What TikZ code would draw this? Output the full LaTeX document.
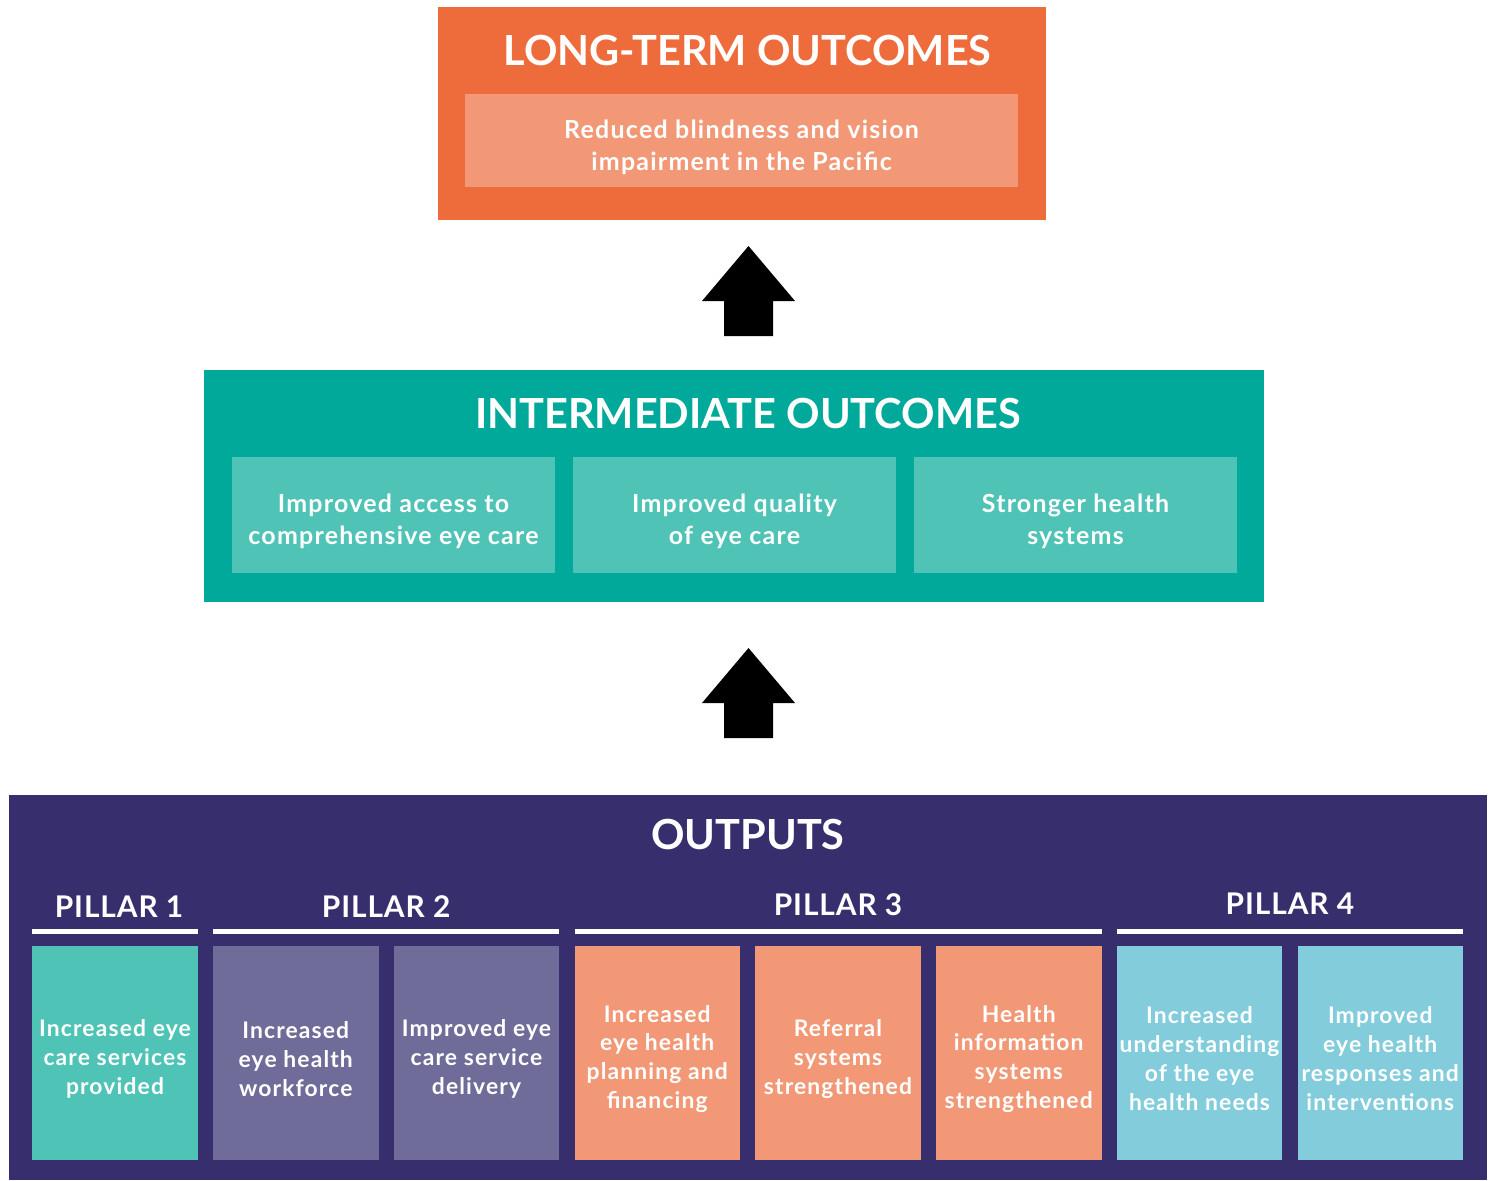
\documentclass[tikz,border=0pt]{standalone}
\usepackage{fontspec}
\setmainfont{Lato}
\newfontfamily\widefont[LetterSpace=5]{Lato}
\newfontfamily\pillfont[LetterSpace=3]{Lato}
\usepackage{xcolor}
\usetikzlibrary{positioning,calc}

\definecolor{ltorange}{HTML}{EE6C3B}
\definecolor{ltpeach}{HTML}{F29876}
\definecolor{imteal}{HTML}{00A99A}
\definecolor{imlight}{HTML}{4EC3B6}
\definecolor{outpurple}{HTML}{372E6E}
\definecolor{outlav}{HTML}{6F6C99}
\definecolor{outblue}{HTML}{82CCDC}

% a taller first line pushes the text a little below the middle
\newcommand{\lowr}{\rule{0pt}{1.25em}}

\begin{document}
\begin{tikzpicture}[
    panel/.style={rectangle, inner sep=0pt, outer sep=0pt},
    title/.style={text=white, font=\bfseries\fontsize{23.6}{27}\selectfont},
    ibox/.style={rectangle, inner sep=0pt, outer sep=0pt, text=white, align=center,
                 font=\widefont\bfseries\fontsize{14.2}{18.2}\selectfont},
    obox/.style={rectangle, inner sep=0pt, outer sep=0pt, minimum width=3.31cm,
                 minimum height=4.28cm, text=white, align=center,
                 font=\widefont\bfseries\fontsize{13}{16.4}\selectfont},
    pillar/.style={text=white, font=\pillfont\bfseries\fontsize{17}{20}\selectfont},
    pline/.style={draw=white, line width=0.1cm},
    uparrow/.style={fill=black},
    node distance=0.305cm
]
    \fill[white] (0,0) rectangle (29.9,-23.6);
    \useasboundingbox (0,0) rectangle (29.9,-23.6);

    % long-term outcomes
    \node[panel, fill=ltorange, minimum width=12.16cm, minimum height=4.26cm] (LT) at (14.84,-2.27) {};
    \node[title] (LTt) at (14.95,-1.02) {LONG-TERM OUTCOMES};
    \node[ibox, fill=ltpeach, minimum width=11.06cm, minimum height=1.86cm] (LTi) at (14.83,-2.81)
        {\lowr Reduced blindness and vision\\impairment in the Pacific};

    % intermediate outcomes
    \node[panel, fill=imteal, minimum width=21.2cm, minimum height=4.64cm] (IM) at (14.68,-9.72) {};
    \node[title] (IMt) at (14.96,-8.26) {INTERMEDIATE OUTCOMES};
    \node[ibox, fill=imlight, minimum width=6.46cm, minimum height=2.32cm] (i1) at (7.87,-10.30)
        {\lowr Improved access to\\comprehensive eye care};
    \node[ibox, fill=imlight, minimum width=6.46cm, minimum height=2.32cm, right=0.36cm of i1] (i2)
        {\lowr Improved quality\\of eye care};
    \node[ibox, fill=imlight, minimum width=6.46cm, minimum height=2.32cm, right=0.36cm of i2] (i3)
        {\lowr Stronger health\\systems};

    % outputs
    \node[panel, fill=outpurple, minimum width=29.56cm, minimum height=7.70cm] (OUT) at (14.96,-19.75) {};
    \node[title] (OUTt) at (14.96,-16.68) {OUTPUTS};
    \node[obox, fill=imlight] (o1) at (2.30,-21.06) {\lowr Increased eye\\care services\\provided};
    \node[obox, fill=outlav, right=of o1] (o2) {\lowr Increased\\eye health\\workforce};
    \node[obox, fill=outlav, right=of o2] (o3) {\lowr Improved eye\\care service\\delivery};
    \node[obox, fill=ltpeach, right=of o3] (o4) {\lowr Increased\\eye health\\planning and\\financing};
    \node[obox, fill=ltpeach, right=of o4] (o5) {\lowr Referral\\systems\\strengthened};
    \node[obox, fill=ltpeach, right=of o5] (o6) {\lowr Health\\information\\systems\\strengthened};
    \node[obox, fill=outblue, right=of o6] (o7) {\lowr Increased\\understanding\\of the eye\\health needs};
    \node[obox, fill=outblue, right=of o7] (o8) {\lowr Improved\\eye health\\responses and\\interventions};

    \draw[pline] ([yshift=0.30cm]o1.north west) -- ([yshift=0.30cm]o1.north east);
    \draw[pline] ([yshift=0.30cm]o2.north west) -- ([yshift=0.30cm]o3.north east);
    \draw[pline] ([yshift=0.30cm]o4.north west) -- ([yshift=0.30cm]o6.north east);
    \draw[pline] ([yshift=0.30cm]o7.north west) -- ([yshift=0.30cm]o8.north east);
    \node[pillar] (p1) at ([xshift=0.08cm, yshift=0.78cm]o1.north) {PILLAR 1};
    \node[pillar] (p2) at ($(o2.north)!0.5!(o3.north)+(0,0.78)$) {PILLAR 2};
    \node[pillar] (p3) at ([yshift=0.82cm]o5.north) {PILLAR 3};
    \node[pillar] (p4) at ($(o7.north)!0.5!(o8.north)+(0,0.84)$) {PILLAR 4};

    % block arrows
    \coordinate (u1) at (14.97,-5.82);
    \coordinate (u2) at (14.97,-13.86);
    \fill[uparrow] (u1) ++(0,0.9) -- ++(-0.93,-1.1) -- ++(0.44,0) -- ++(0,-0.7)
        -- ++(0.98,0) -- ++(0,0.7) -- ++(0.44,0) -- cycle;
    \fill[uparrow] (u2) ++(0,0.9) -- ++(-0.93,-1.1) -- ++(0.44,0) -- ++(0,-0.7)
        -- ++(0.98,0) -- ++(0,0.7) -- ++(0.44,0) -- cycle;
\end{tikzpicture}
\end{document}
